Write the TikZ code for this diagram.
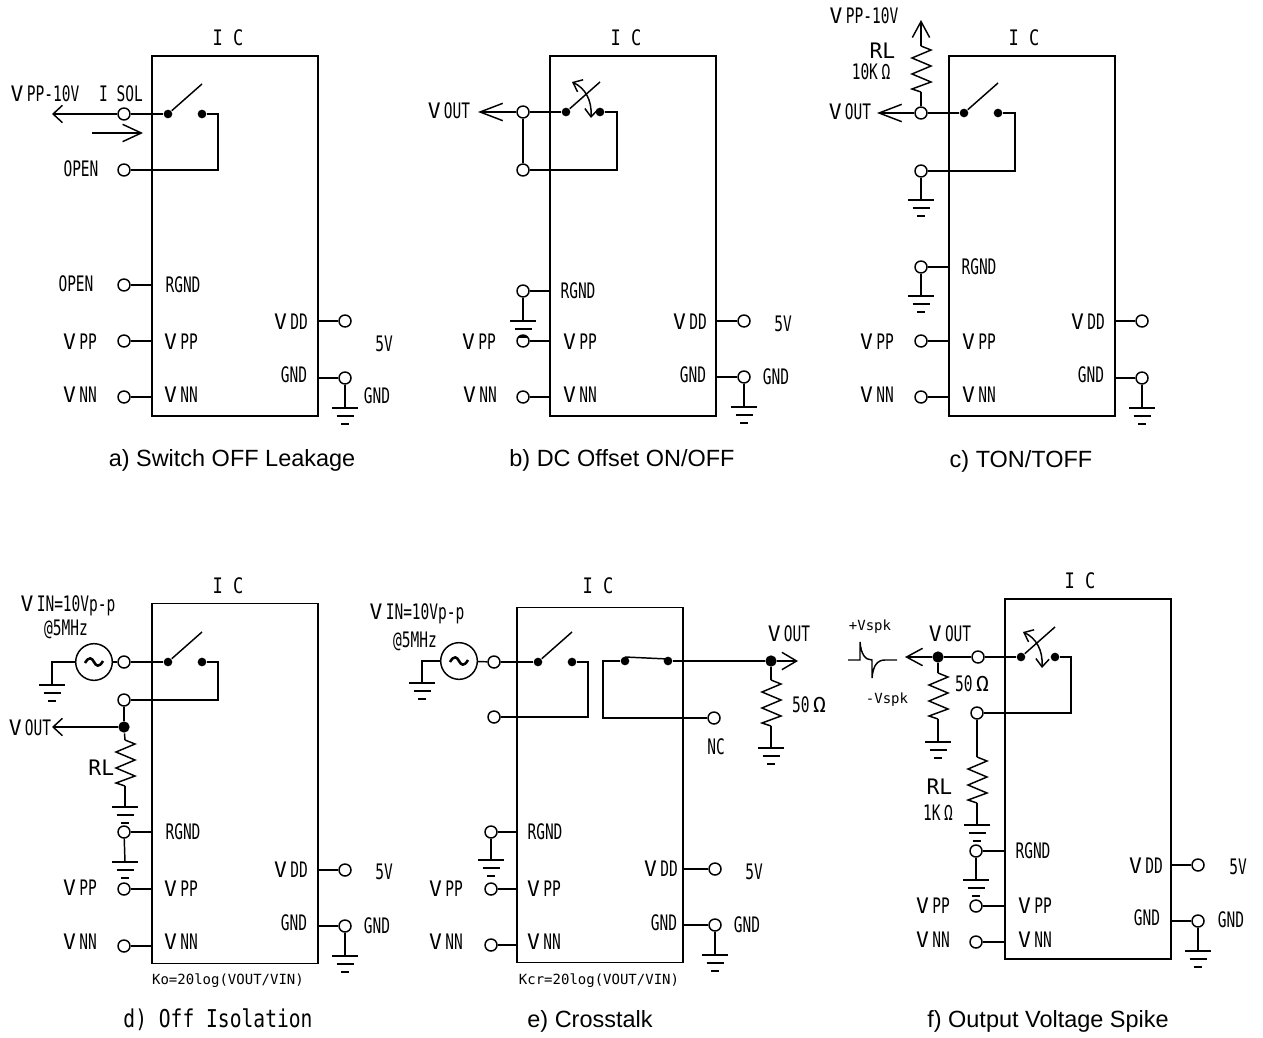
\documentclass[tikz,border=0pt]{standalone}
\usepackage{fontspec}
\usetikzlibrary{arrows.meta}
\setmainfont{Liberation Sans}
\newfontfamily\gothic[FakeStretch=0.68]{DejaVu Sans Mono}
\newfontfamily\gothicwide[FakeStretch=1.0]{DejaVu Sans Mono}
\newfontfamily\gothicmono[FakeStretch=0.8]{DejaVu Sans Mono}
\newfontfamily\smallmono{DejaVu Sans Mono}
\newcommand{\Vf}{{\gothicwide V}\kern2.5pt}
\newcommand{\Rl}{{\gothicwide\kern-1pt RL}}

\tikzset{
  chip/.style={draw, minimum width=124.5pt, minimum height=270pt, inner sep=0},
  term/.style={circle, draw, fill=white, minimum size=9pt, inner sep=0},
  dot/.style={circle, fill=black, minimum size=6.5pt, inner sep=0},
  jdot/.style={circle, fill=black, minimum size=8.5pt, inner sep=0},
  src/.style={circle, draw, fill=white, minimum size=27.5pt, inner sep=0},
  lab/.style={font=\gothic\fontsize{16}{18}\selectfont, inner sep=0, text height=11.5pt, text depth=0pt},
  tinylab/.style={font=\smallmono\fontsize{10.5}{12}\selectfont, inner sep=0},
  ictitle/.style={font=\gothicmono\fontsize{16}{18}\selectfont, inner sep=0},
  capt/.style={font=\fontsize{17.6}{20}\selectfont, inner sep=0},
  captmono/.style={font=\gothicmono\fontsize{18.4}{20}\selectfont, inner sep=0},
  barb/.style={-{Straight Barb[length=#1,width=13pt]}},
  barb/.default=7pt,
  flip/.style={{Straight Barb[length=6pt,width=10pt]}-{Straight Barb[length=6pt,width=10pt]}},
  gnd/.pic={
    \draw (-13,0) -- (13,0);
    \draw (-8.5,8) -- (8.5,8);
    \draw [line width=1.5pt] (-4,15.5) -- (4,15.5);
  },
  res/.pic={
    \draw (0,0) -- (10,4) -- (-9,12) -- (10,20) -- (-9,28) -- (10,36) -- (-9,43) -- (0,46);
  },
  wave/.pic={
    \draw [line width=1.9pt] (-9,1) .. controls (-5,-6) and (-2,-4) .. (0,0) .. controls (2,4) and (5,6) .. (9,-1);
  },
}

\begin{document}
\begin{tikzpicture}[x=0.75pt, y=-0.75pt, line width=1.1pt]
  \useasboundingbox (0,0) rectangle (1263,1038);

  % a) switch off leakage
  \node [chip] (a-ic) at (235,236) {};
  \node [ictitle] (a-title) at (228,38) {I C};
  \node [dot] (a-s1) at (168,114) {};
  \node [dot] (a-s2) at (202,114) {};
  \coordinate (a-blade) at (202,84);
  \coordinate (a-bend) at (218,114);
  \node [term] (a-t1) at (124,114) {};
  \node [term] (a-t2) at (124,170) {};
  \node [term] (a-t3) at (124,285) {};
  \node [term] (a-t4) at (124,341) {};
  \node [term] (a-t5) at (124,397) {};
  \node [term] (a-t6) at (345,321) {};
  \node [term] (a-t7) at (345,378) {};
  \coordinate (a-out) at (52,114);
  \coordinate (a-g) at (345,408);
  \coordinate (a-i1) at (92,133);
  \coordinate (a-i2) at (143,133);
  \draw (a-s1) -- (a-blade);
  \draw (a-t1) -- (a-s1);
  \draw (a-s2) -- (a-bend) |- (a-t2);
  \draw [barb] (a-t1) -- (a-out);
  \draw [barb=14pt] (a-i1) -- (a-i2);
  \draw (a-t3) -- (a-t3 -| a-ic.west);
  \draw (a-t4) -- (a-t4 -| a-ic.west);
  \draw (a-t5) -- (a-t5 -| a-ic.west);
  \draw (a-t6) -- (a-t6 -| a-ic.east);
  \draw (a-t7) -- (a-t7 -| a-ic.east);
  \draw (a-t7) -- (a-g);
  \pic at (a-g) {gnd};
  \node [lab] (a-l1) at (45,94) {\Vf PP-10V};
  \node [lab] (a-l2) at (121,94) {I SOL};
  \node [lab] (a-l3) at (81,169) {OPEN};
  \node [lab] (a-l4) at (76,284) {OPEN};
  \node [lab] (a-l5) at (80,342) {\Vf PP};
  \node [lab] (a-l6) at (80,395) {\Vf NN};
  \node [lab] (a-l7) at (183,285) {RGND};
  \node [lab] (a-l8) at (181,342) {\Vf PP};
  \node [lab] (a-l9) at (181,395) {\Vf NN};
  \node [lab] (a-l10) at (291,322) {\Vf DD};
  \node [lab] (a-l11) at (294,375) {GND};
  \node [lab] (a-l12) at (384,344) {5V};
  \node [lab] (a-l13) at (377,396) {GND};
  \node [capt] (a-capt) at (232,460) {a) Switch OFF Leakage};

  % b) dc offset
  \node [chip] (b-ic) at (633,236) {};
  \node [ictitle] (b-title) at (626,38) {I C};
  \node [dot] (b-s1) at (566,112) {};
  \node [dot] (b-s2) at (600,112) {};
  \coordinate (b-blade) at (600,82);
  \coordinate (b-bend) at (617,112);
  \coordinate (b-f1) at (572,82);
  \coordinate (b-f2) at (591,118);
  \node [term] (b-t1) at (523,112) {};
  \node [term] (b-t2) at (523,170) {};
  \node [term] (b-t3) at (523,291) {};
  \node [term] (b-t4) at (523,341) {};
  \node [term] (b-t5) at (523,397) {};
  \node [term] (b-t6) at (744,321) {};
  \node [term] (b-t7) at (744,377) {};
  \coordinate (b-out) at (478,112);
  \coordinate (b-g1) at (523,321);
  \coordinate (b-g2) at (744,407);
  \draw (b-s1) -- (b-blade);
  \draw (b-t1) -- (b-s1);
  \draw (b-s2) -- (b-bend) |- (b-t2);
  \draw (b-t1) -- (b-t2);
  \draw [barb=17pt] (b-t1) -- (b-out);
  \draw [flip] (b-f1) .. controls (585,88) and (592,100) .. (b-f2);
  \draw (b-t3) -- (b-t3 -| b-ic.west);
  \draw (b-t4) -- (b-t4 -| b-ic.west);
  \draw (b-t5) -- (b-t5 -| b-ic.west);
  \draw (b-t6) -- (b-t6 -| b-ic.east);
  \draw (b-t7) -- (b-t7 -| b-ic.east);
  \draw (b-t3) -- (b-g1);
  \draw (b-t7) -- (b-g2);
  \pic at (b-g1) {gnd};
  \pic at (b-g2) {gnd};
  \node [lab] (b-l1) at (449,111) {\Vf OUT};
  \node [lab] (b-l5) at (479,342) {\Vf PP};
  \node [lab] (b-l6) at (480,395) {\Vf NN};
  \node [lab] (b-l7) at (578,291) {RGND};
  \node [lab] (b-l8) at (580,342) {\Vf PP};
  \node [lab] (b-l9) at (580,395) {\Vf NN};
  \node [lab] (b-l10) at (690,322) {\Vf DD};
  \node [lab] (b-l11) at (693,375) {GND};
  \node [lab] (b-l12) at (783,324) {5V};
  \node [lab] (b-l13) at (776,377) {GND};
  \node [capt] (b-capt) at (622,460) {b) DC Offset ON/OFF};

  % c) ton/toff
  \node [chip] (c-ic) at (1032,236) {};
  \node [ictitle] (c-title) at (1024,38) {I C};
  \node [dot] (c-s1) at (964,113) {};
  \node [dot] (c-s2) at (998,113) {};
  \coordinate (c-blade) at (998,83);
  \coordinate (c-bend) at (1015,113);
  \node [term] (c-t1) at (921,113) {};
  \node [term] (c-t2) at (921,171) {};
  \node [term] (c-t3) at (921,267) {};
  \node [term] (c-t4) at (921,341) {};
  \node [term] (c-t5) at (921,397) {};
  \node [term] (c-t6) at (1142,321) {};
  \node [term] (c-t7) at (1142,378) {};
  \coordinate (c-out) at (877,113);
  \coordinate (c-up) at (921,20);
  \coordinate (c-rt) at (921,46);
  \coordinate (c-rb) at (921,92);
  \coordinate (c-g1) at (921,200);
  \coordinate (c-g2) at (921,296);
  \coordinate (c-g3) at (1142,408);
  \draw (c-s1) -- (c-blade);
  \draw (c-t1) -- (c-s1);
  \draw (c-s2) -- (c-bend) |- (c-t2);
  \draw [barb=17pt] (c-t1) -- (c-out);
  \draw [barb=12pt] (c-rt) -- (c-up);
  \pic at (c-rt) {res};
  \draw (c-rb) -- (c-t1);
  \draw (c-t3) -- (c-t3 -| c-ic.west);
  \draw (c-t4) -- (c-t4 -| c-ic.west);
  \draw (c-t5) -- (c-t5 -| c-ic.west);
  \draw (c-t6) -- (c-t6 -| c-ic.east);
  \draw (c-t7) -- (c-t7 -| c-ic.east);
  \draw (c-t2) -- (c-g1);
  \draw (c-t3) -- (c-g2);
  \draw (c-t7) -- (c-g3);
  \pic at (c-g1) {gnd};
  \pic at (c-g2) {gnd};
  \pic at (c-g3) {gnd};
  \node [lab] (c-l1) at (864,16) {\Vf PP-10V};
  \node [lab] (c-l2) at (883,51) {\Rl};
  \node [lab] (c-l3) at (871,72) {10K\,Ω};
  \node [lab] (c-l4) at (850,112) {\Vf OUT};
  \node [lab] (c-l5) at (877,342) {\Vf PP};
  \node [lab] (c-l6) at (877,395) {\Vf NN};
  \node [lab] (c-l7) at (979,267) {RGND};
  \node [lab] (c-l8) at (979,342) {\Vf PP};
  \node [lab] (c-l9) at (979,395) {\Vf NN};
  \node [lab] (c-l10) at (1088,322) {\Vf DD};
  \node [lab] (c-l11) at (1091,375) {GND};
  \node [capt] (c-capt) at (1021,461) {c) TON/TOFF};

  % d) off isolation
  \node [chip] (d-ic) at (235,783.5) {};
  \node [ictitle] (d-title) at (228,586) {I C};
  \node [dot] (d-s1) at (168,662) {};
  \node [dot] (d-s2) at (202,662) {};
  \coordinate (d-blade) at (202,632);
  \coordinate (d-bend) at (218,662);
  \node [term] (d-t1) at (124,662) {};
  \node [term] (d-t2) at (124,700) {};
  \node [term] (d-t3) at (124,832) {};
  \node [term] (d-t4) at (124,889) {};
  \node [term] (d-t5) at (124,946) {};
  \node [term] (d-t6) at (345,870) {};
  \node [term] (d-t7) at (345,926) {};
  \node [src] (d-src) at (94,662) {};
  \node [jdot] (d-j) at (124,727) {};
  \coordinate (d-out) at (52,727);
  \coordinate (d-sb) at (52,662);
  \coordinate (d-g1) at (52,685);
  \coordinate (d-rt) at (125,740);
  \coordinate (d-rb) at (125,786);
  \coordinate (d-g2) at (125,807);
  \coordinate (d-g3) at (125,862);
  \coordinate (d-g4) at (345,956);
  \draw (d-s1) -- (d-blade);
  \draw (d-t1) -- (d-s1);
  \draw (d-s2) -- (d-bend) |- (d-t2);
  \draw (d-src) -- (d-t1);
  \draw (d-src) -- (d-sb) -- (d-g1);
  \pic at (d-src) {wave};
  \draw (d-t2) -- (d-j);
  \draw [barb] (d-j) -- (d-out);
  \draw (d-j) -- (d-rt);
  \pic at (d-rt) {res};
  \draw (d-rb) -- (d-g2);
  \draw (d-t3) -- (d-t3 -| d-ic.west);
  \draw (d-t4) -- (d-t4 -| d-ic.west);
  \draw (d-t5) -- (d-t5 -| d-ic.west);
  \draw (d-t6) -- (d-t6 -| d-ic.east);
  \draw (d-t7) -- (d-t7 -| d-ic.east);
  \draw (d-t3) -- (d-g3);
  \draw (d-t7) -- (d-g4);
  \pic at (d-g1) {gnd};
  \pic at (d-g2) {gnd};
  \pic at (d-g3) {gnd};
  \pic at (d-g4) {gnd};
  \node [lab] (d-l1) at (68,604) {\Vf IN=10Vp-p};
  \node [lab] (d-l2) at (66,628) {@5MHz};
  \node [lab] (d-l3) at (30,728) {\Vf OUT};
  \node [lab] (d-l4) at (102,768) {\Rl};
  \node [lab] (d-l5) at (80,888) {\Vf PP};
  \node [lab] (d-l6) at (80,942) {\Vf NN};
  \node [lab] (d-l7) at (183,832) {RGND};
  \node [lab] (d-l8) at (181,889) {\Vf PP};
  \node [lab] (d-l9) at (181,942) {\Vf NN};
  \node [lab] (d-l10) at (291,870) {\Vf DD};
  \node [lab] (d-l11) at (294,923) {GND};
  \node [lab] (d-l12) at (384,872) {5V};
  \node [lab] (d-l13) at (377,926) {GND};
  \node [tinylab] (d-form) at (228,981) {Ko=20log(VOUT/VIN)};
  \node [captmono] (d-capt) at (218,1020) {d) Off Isolation};

  % e) crosstalk
  \node [chip, minimum height=266pt] (e-ic) at (600,785) {};
  \node [ictitle] (e-title) at (598,586) {I C};
  \node [dot] (e-s1) at (538,662) {};
  \node [dot] (e-s2) at (572,662) {};
  \node [dot] (e-s3) at (625,661) {};
  \node [dot] (e-s4) at (668,661) {};
  \coordinate (e-blade) at (572,632);
  \coordinate (e-bend) at (588,662);
  \coordinate (e-bend2) at (603,661);
  \coordinate (e-b1) at (625,657);
  \coordinate (e-b2) at (668,659);
  \node [term] (e-t1) at (494,662) {};
  \node [term] (e-t2) at (494,717) {};
  \node [term] (e-nc) at (714,718) {};
  \node [term] (e-t3) at (491,832) {};
  \node [term] (e-t4) at (491,889) {};
  \node [term] (e-t5) at (491,945) {};
  \node [term] (e-t6) at (715,869) {};
  \node [term] (e-t7) at (715,925) {};
  \node [src] (e-src) at (459,661) {};
  \node [jdot] (e-j) at (771,661) {};
  \coordinate (e-out) at (798,661);
  \coordinate (e-sb) at (422,661);
  \coordinate (e-g1) at (422,683);
  \coordinate (e-rt) at (771,680);
  \coordinate (e-rb) at (771,726);
  \coordinate (e-g2) at (771,748);
  \coordinate (e-g3) at (491,860);
  \coordinate (e-g4) at (715,955);
  \draw (e-s1) -- (e-blade);
  \draw (e-t1) -- (e-s1);
  \draw (e-s2) -- (e-bend) |- (e-t2);
  \draw (e-s3) -- (e-bend2) |- (e-nc);
  \draw (e-b1) -- (e-b2);
  \draw (e-s4) -- (e-j);
  \draw (e-src) -- (e-t1);
  \draw (e-src) -- (e-sb) -- (e-g1);
  \pic at (e-src) {wave};
  \draw [barb=11pt] (e-j) -- (e-out);
  \draw (e-j) -- (e-rt);
  \pic at (e-rt) {res};
  \draw (e-rb) -- (e-g2);
  \draw (e-t3) -- (e-t3 -| e-ic.west);
  \draw (e-t4) -- (e-t4 -| e-ic.west);
  \draw (e-t5) -- (e-t5 -| e-ic.west);
  \draw (e-t6) -- (e-t6 -| e-ic.east);
  \draw (e-t7) -- (e-t7 -| e-ic.east);
  \draw (e-t3) -- (e-g3);
  \draw (e-t7) -- (e-g4);
  \pic at (e-g1) {gnd};
  \pic at (e-g2) {gnd};
  \pic at (e-g3) {gnd};
  \pic at (e-g4) {gnd};
  \node [lab] (e-l1) at (417,612) {\Vf IN=10Vp-p};
  \node [lab] (e-l2) at (415,640) {@5MHz};
  \node [lab] (e-l3) at (789,634) {\Vf OUT};
  \node [lab] (e-l4) at (716,747) {NC};
  \node [lab] (e-l5) at (446,889) {\Vf PP};
  \node [lab] (e-l6) at (446,942) {\Vf NN};
  \node [lab] (e-l7) at (545,832) {RGND};
  \node [lab] (e-l8) at (544,889) {\Vf PP};
  \node [lab] (e-l9) at (544,942) {\Vf NN};
  \node [lab] (e-l10) at (661,869) {\Vf DD};
  \node [lab] (e-l11) at (664,923) {GND};
  \node [lab] (e-l12) at (754,872) {5V};
  \node [lab] (e-l13) at (747,925) {GND};
  \node [lab] (e-l14) at (809,705) {50\,{\gothicwide Ω}};
  \node [tinylab] (e-form) at (599,981) {Kcr=20log(VOUT/VIN)};
  \node [capt] (e-capt) at (590,1021) {e) Crosstalk};

  % f) output voltage spike
  \node [chip] (f-ic) at (1088,779) {};
  \node [ictitle] (f-title) at (1080,581) {I C};
  \node [dot] (f-s1) at (1021,657) {};
  \node [dot] (f-s2) at (1055,657) {};
  \coordinate (f-blade) at (1055,627);
  \coordinate (f-bend) at (1071,657);
  \coordinate (f-f1) at (1023,632);
  \coordinate (f-f2) at (1042,668);
  \node [term] (f-t1) at (978,657) {};
  \node [term] (f-t2) at (977,713) {};
  \node [term] (f-t3) at (976,851) {};
  \node [term] (f-t4) at (976,906) {};
  \node [term] (f-t5) at (976,942) {};
  \node [term] (f-t6) at (1198,865) {};
  \node [term] (f-t7) at (1198,921) {};
  \node [jdot] (f-j) at (938,657) {};
  \coordinate (f-out) at (905,657);
  \coordinate (f-rt) at (938,673);
  \coordinate (f-rb) at (938,719);
  \coordinate (f-rt2) at (977,757);
  \coordinate (f-rb2) at (977,803);
  \coordinate (f-g1) at (938,742);
  \coordinate (f-g2) at (977,825);
  \coordinate (f-g3) at (976,880);
  \coordinate (f-g4) at (1198,951);
  \draw (f-s1) -- (f-blade);
  \draw (f-t1) -- (f-s1);
  \draw (f-s2) -- (f-bend) |- (f-t2);
  \draw [flip] (f-f1) .. controls (1036,638) and (1043,650) .. (f-f2);
  \draw (f-t1) -- (f-j);
  \draw [barb=12pt] (f-j) -- (f-out);
  \draw (f-j) -- (f-rt);
  \pic at (f-rt) {res};
  \draw (f-rb) -- (f-g1);
  \draw (f-t2) -- (f-rt2);
  \pic at (f-rt2) {res};
  \draw (f-rb2) -- (f-g2);
  \draw (f-t3) -- (f-t3 -| f-ic.west);
  \draw (f-t4) -- (f-t4 -| f-ic.west);
  \draw (f-t5) -- (f-t5 -| f-ic.west);
  \draw (f-t6) -- (f-t6 -| f-ic.east);
  \draw (f-t7) -- (f-t7 -| f-ic.east);
  \draw (f-t3) -- (f-g3);
  \draw (f-t7) -- (f-g4);
  \pic at (f-g1) {gnd};
  \pic at (f-g2) {gnd};
  \pic at (f-g3) {gnd};
  \pic at (f-g4) {gnd};
  \draw (848,660) -- (860,660) -- (860,642) .. controls (861,654) and (865,660) .. (872,660) -- (872,678) .. controls (873,666) and (877,660) .. (885,660) -- (897,660);
  \node [tinylab] (f-l1) at (870,627) {+Vspk};
  \node [tinylab] (f-l2) at (887,700) {-Vspk};
  \node [lab] (f-l3) at (950,634) {\Vf OUT};
  \node [lab] (f-l4) at (972,684) {50\,{\gothicwide Ω}};
  \node [lab] (f-l5) at (940,787) {\Rl};
  \node [lab] (f-l6) at (938,813) {1K\,Ω};
  \node [lab] (f-l7) at (933,906) {\Vf PP};
  \node [lab] (f-l8) at (933,940) {\Vf NN};
  \node [lab] (f-l9) at (1033,851) {RGND};
  \node [lab] (f-l10) at (1035,906) {\Vf PP};
  \node [lab] (f-l11) at (1035,940) {\Vf NN};
  \node [lab] (f-l12) at (1146,866) {\Vf DD};
  \node [lab] (f-l13) at (1147,918) {GND};
  \node [lab] (f-l14) at (1238,867) {5V};
  \node [lab] (f-l15) at (1231,920) {GND};
  \node [capt] (f-capt) at (1048,1021) {f) Output Voltage Spike};
\end{tikzpicture}
\end{document}
